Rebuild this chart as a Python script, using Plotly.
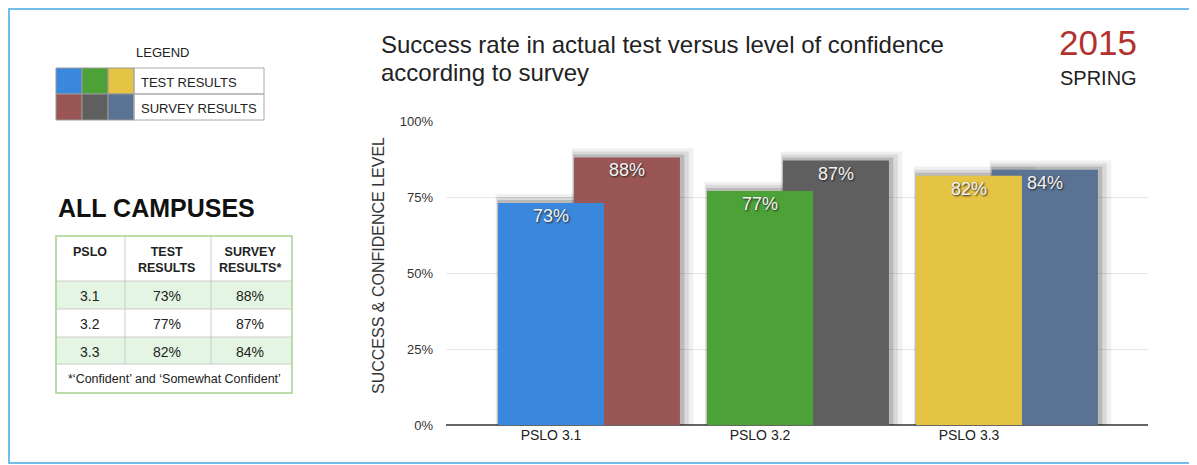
import plotly.graph_objects as go

# ---- data ----
categories = ["3.1", "3.2", "3.3"]
test_results = [73, 77, 82]
survey_results = [88, 87, 84]
tick_labels = ["PSLO " + c for c in categories]
y_ticks = [0, 25, 50, 75, 100]
y_tick_labels = [f"{v}%" for v in y_ticks]

test_colors = ["#3a88de", "#4ca236", "#e5c444"]
survey_colors = ["#9a5654", "#5f5f5f", "#5a7395"]

# the page body has an 8px margin, so the figure starts at (8, 8) of the window
OFF = 8
W, H = 1197 - OFF, 465 - OFF


def px(x):
    return (x - OFF) / W


def py(y):
    return 1 - (y - OFF) / H


FONT = "Liberation Sans, Arial, sans-serif"

bar_w = 0.507
test_off = -0.2535
survey_off = 0.110

fig = go.Figure()

# soft drop shadows behind the bars
for grow, lift, alpha in [(0.075, 3.0, 0.06), (0.05, 2.0, 0.09), (0.025, 1.0, 0.15)]:
    for vals, off in [(survey_results, survey_off), (test_results, test_off)]:
        fig.add_trace(go.Bar(
            x=categories, y=[v + lift for v in vals],
            width=bar_w + grow, offset=off - grow * 0.15,
            marker=dict(color=f"rgba(0,0,0,{alpha})", line=dict(width=0)),
            hoverinfo="skip", showlegend=False,
        ))

bar_text = dict(color="#f2f2f2", size=18, family=FONT, shadow="1px 1px 2px #222")

# survey bars (behind)
fig.add_trace(go.Bar(
    x=categories, y=survey_results, name="SURVEY RESULTS",
    width=bar_w, offset=survey_off,
    marker=dict(color=survey_colors, line=dict(width=0)),
    text=[f"{v}%" for v in survey_results], texttemplate="%{text}",
    textposition="inside", insidetextanchor="end",
    textfont=bar_text, constraintext="none", showlegend=False,
))

# test bars (front)
fig.add_trace(go.Bar(
    x=categories, y=test_results, name="TEST RESULTS",
    width=bar_w, offset=test_off,
    marker=dict(color=test_colors, line=dict(width=0)),
    text=[f"{v}%" for v in test_results], texttemplate="%{text}",
    textposition="inside", insidetextanchor="end",
    textfont=bar_text, constraintext="none", showlegend=False,
))

fig.update_layout(
    width=W, height=H,
    margin=dict(l=0, r=0, t=0, b=0),
    paper_bgcolor="white", plot_bgcolor="white",
    barmode="overlay",
    font=dict(family=FONT, color="#222"),
    xaxis=dict(
        domain=[px(446), px(1148)],
        range=[(446 - 551) / 209, (1148 - 551) / 209],
        tickvals=categories, ticktext=tick_labels,
        tickfont=dict(size=14, color="#222"),
        showgrid=False, showline=False, zeroline=False,
        automargin=False,
    ),
    yaxis=dict(
        domain=[py(425), py(121)],
        range=[0, 100],
        tickvals=y_ticks, ticktext=y_tick_labels,
        tickfont=dict(size=13, color="#333"),
        ticklabelstandoff=12,
        showgrid=True, gridcolor="#e6e6e6", gridwidth=1,
        zeroline=True, zerolinecolor="#666", zerolinewidth=2,
        showline=False, automargin=False,
    ),
)

shapes = []
annotations = []


def note(text, x, y, size, color="#222", xanchor="center", **kw):
    annotations.append(dict(text=text, xref="paper", yref="paper", x=px(x), y=py(y),
                            xanchor=xanchor, yanchor="middle", showarrow=False,
                            font=dict(size=size, color=color), **kw))


# outer frame
shapes.append(dict(type="rect", xref="paper", yref="paper",
                   x0=px(9), x1=px(1194), y0=py(463), y1=py(9),
                   line=dict(color="#74bde8", width=2)))

# y axis title
note("SUCCESS & CONFIDENCE LEVEL", 378, 266, 16, "#333", textangle=-90)

# chart title
note("Success rate in actual test versus level of confidence", 379, 44, 24, xanchor="left")
note("according to survey", 379, 73, 24, xanchor="left")
note("2015", 1139, 43, 35, "#b3322f", xanchor="right")
note("SPRING", 1139, 78, 20, xanchor="right")

# ---- legend panel ----
note("LEGEND", 162, 53, 13)
box_x = [56, 82, 108, 134]
for row, colors in [((68, 94), test_colors), ((94, 120), survey_colors)]:
    for i, c in enumerate(colors):
        shapes.append(dict(type="rect", xref="paper", yref="paper",
                           x0=px(box_x[i]), x1=px(box_x[i + 1]), y0=py(row[1]), y1=py(row[0]),
                           fillcolor=c, line=dict(color="#999", width=1)))
for y0, y1, label in [(68, 94, "TEST RESULTS"), (94, 120, "SURVEY RESULTS")]:
    shapes.append(dict(type="rect", xref="paper", yref="paper",
                       x0=px(134), x1=px(264), y0=py(y1), y1=py(y0),
                       line=dict(color="#aaa", width=1)))
    note(label, 139, (y0 + y1) / 2 + 1, 13, xanchor="left")

# ---- ALL CAMPUSES table ----
note("<b>ALL CAMPUSES</b>", 56, 208, 25, "#111", xanchor="left")

green = "#a9d18e"
row_y = [281, 309, 337, 364]
for i in range(len(categories)):
    if i % 2 == 0:
        shapes.append(dict(type="rect", xref="paper", yref="paper",
                           x0=px(56), x1=px(292), y0=py(row_y[i + 1]), y1=py(row_y[i]),
                           fillcolor="#e4f6e3", line=dict(width=0), layer="below"))
for yy in row_y:
    shapes.append(dict(type="line", xref="paper", yref="paper",
                       x0=px(56), x1=px(292), y0=py(yy), y1=py(yy),
                       line=dict(color="#cccccc", width=1)))
for xx in [125, 211]:
    shapes.append(dict(type="line", xref="paper", yref="paper",
                       x0=px(xx), x1=px(xx), y0=py(364), y1=py(236),
                       line=dict(color="#cccccc", width=1)))
shapes.append(dict(type="rect", xref="paper", yref="paper",
                   x0=px(56), x1=px(292), y0=py(393), y1=py(236),
                   line=dict(color=green, width=1.5)))

col_x = [90, 167, 250]
headers = ["<b>PSLO</b>", "<b>TEST<br>RESULTS</b>", "<b>SURVEY<br>RESULTS*</b>"]
for cx, h in zip(col_x, headers):
    note(h, cx, 260 if "<br>" in h else 252, 12.5)
for i, (c, t, s) in enumerate(zip(categories, test_results, survey_results)):
    ymid = (row_y[i] + row_y[i + 1]) / 2 + 1
    for cx, txt in zip(col_x, [c, f"{t}%", f"{s}%"]):
        note(txt, cx, ymid, 14)
note("*‘Confident’ and ‘Somewhat Confident’", 174, 379, 12.5)

fig.update_layout(shapes=shapes, annotations=annotations)

fig.write_html("out.html")
